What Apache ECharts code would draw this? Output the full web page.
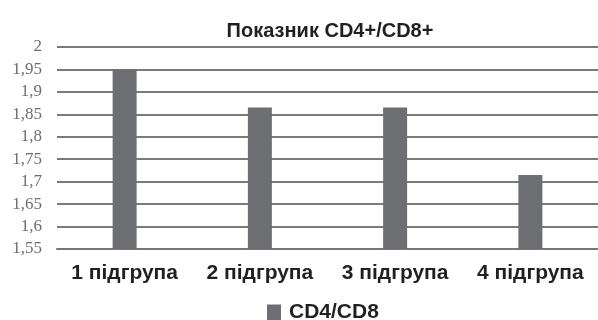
<!DOCTYPE html>
<html>
<head>
<meta charset="utf-8">
<script src="https://cdn.jsdelivr.net/npm/echarts@6/dist/echarts.min.js"></script>
<style>
  html, body { margin: 0; padding: 0; background: #fff; }
  #chart { width: 598px; height: 320px; }
</style>
</head>
<body>
<div id="chart"></div>
<script>
// CD4+/CD8+ ratio per subgroup
const categories = ['1 підгрупа', '2 підгрупа', '3 підгрупа', '4 підгрупа'];
const seriesName = 'CD4/CD8';
const ratioValues = [1.95, 1.865, 1.865, 1.715];
const yMin = 1.55;
const yMax = 2;
const yStep = 0.05;

const chart = echarts.init(document.getElementById('chart'), null, { renderer: 'canvas' });
chart.setOption({
  animation: false,
  backgroundColor: '#ffffff',
  title: {
    text: 'Показник CD4+/CD8+',
    left: 325,
    textAlign: 'center',
    top: 16,
    textStyle: {
      fontFamily: 'Liberation Sans',
      fontWeight: 'bold',
      fontSize: 20,
      color: '#231f20'
    }
  },
  legend: {
    data: [seriesName],
    left: 262,
    top: 297,
    itemWidth: 14,
    itemHeight: 16,
    icon: 'rect',
    textStyle: {
      fontFamily: 'Liberation Sans',
      fontWeight: 'bold',
      fontSize: 21,
      color: '#231f20',
      padding: [0, 0, 0, 3]
    }
  },
  grid: {
    left: 57,
    top: 47,
    width: 552,
    height: 202,
    containLabel: false
  },
  xAxis: {
    type: 'category',
    data: categories,
    axisLine: { show: true, lineStyle: { color: '#777777', width: 2 } },
    axisTick: { show: false },
    axisLabel: {
      margin: 14,
      fontFamily: 'Liberation Sans',
      fontWeight: 'bold',
      fontSize: 21,
      color: '#231f20',
      interval: 0
    },
    splitLine: { show: false }
  },
  yAxis: {
    type: 'value',
    min: yMin,
    max: yMax,
    interval: yStep,
    axisLine: { show: false },
    axisTick: { show: false },
    axisLabel: {
      margin: 15,
      fontFamily: 'Liberation Sans Narrow',
      fontSize: 17,
      color: '#6d6e71',
      formatter: v => String(+v.toFixed(2)).replace('.', ',')
    },
    splitLine: { show: true, lineStyle: { color: '#7a7a7a', width: 2 } }
  },
  series: [{
    name: seriesName,
    type: 'bar',
    data: ratioValues,
    barWidth: 24,
    itemStyle: { color: '#6d6e71' }
  }]
});
</script>
</body>
</html>
